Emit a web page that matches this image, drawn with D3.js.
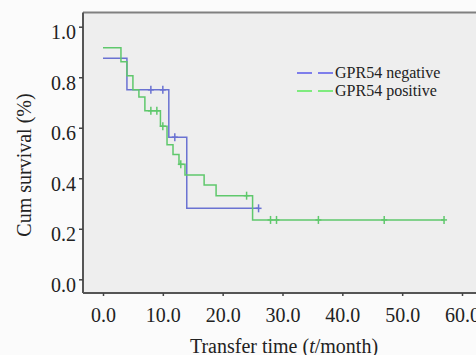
<!DOCTYPE html>
<html>
<head>
<meta charset="utf-8">
<script src="https://cdn.jsdelivr.net/npm/d3@7"></script>
<style>
  body { margin: 0; background: #fbfbfb; }
  svg { display: block; font-family: "Liberation Serif", "Times New Roman", serif; }
</style>
</head>
<body>
<svg id="km" width="476" height="355"></svg>
<script>
// GPR54 negative: step times (months) and survival after each step
var negTimes = [0, 4, 11, 14, 26];
var negSurv = [0.875, 0.75, 0.5625, 0.281, 0.281];
var negCensor = [8, 10, 12, 26];

// GPR54 positive
var posTimes = [0, 3, 4, 5, 6, 7, 9.6, 10.7, 11.7, 12.7, 13.7, 16.9, 18.9, 25, 57];
var posSurv = [0.917, 0.861, 0.806, 0.75, 0.722, 0.667, 0.606, 0.533, 0.494, 0.455, 0.413, 0.373, 0.331, 0.235, 0.235];
var posCensor = [8, 9, 10, 13, 24, 28, 29, 36, 47, 57];

var xTicks = [0, 10, 20, 30, 40, 50, 60];
var yTicks = [0, 0.2, 0.4, 0.6, 0.8, 1.0];
var legendLabels = ["GPR54 negative", "GPR54 positive"];

var lineColors = ["#6a72d2", "#5fc86c"];
var legendColors = ["#5a5aea", "#5aea5a"];

var svg = d3.select("#km");

// plot frame
var box = {left: 83, top: 12.5, right: 480, bottom: 293};

var x = d3.scaleLinear().domain([0, 60]).range([103, 462]);
var y = d3.scaleLinear().domain([0, 1]).range([279.3, 26.7]);

svg.append("rect")
  .attr("x", box.left).attr("y", box.top)
  .attr("width", box.right - box.left).attr("height", box.bottom - box.top)
  .attr("fill", "#eeeeee");

svg.append("line")
  .attr("x1", box.left).attr("x2", box.right)
  .attr("y1", box.top).attr("y2", box.top)
  .attr("stroke", "#808080").attr("stroke-width", 2);

// axes
var xAxis = svg.append("g")
  .attr("transform", "translate(0," + box.bottom + ")")
  .call(d3.axisBottom(x).tickValues(xTicks).tickSize(3).tickSizeOuter(0).tickFormat(d3.format(".1f")));
xAxis.select(".domain").attr("d", "M" + box.left + ",0H" + box.right);

var yAxis = svg.append("g")
  .attr("transform", "translate(" + box.left + ",0)")
  .call(d3.axisLeft(y).tickValues(yTicks).tickSize(4).tickSizeOuter(0).tickFormat(d3.format(".1f")));
yAxis.select(".domain").attr("d", "M0," + box.top + "V" + box.bottom);

svg.selectAll(".domain").attr("stroke", "#555").attr("stroke-width", 2);
svg.selectAll(".tick line").attr("stroke", "#444").attr("stroke-width", 1.5);
svg.selectAll(".tick text")
  .attr("font-family", "Liberation Serif, Times New Roman, serif")
  .attr("font-size", 20).attr("fill", "#222");
xAxis.selectAll(".tick text").attr("y", 15).attr("dy", "0.71em");
yAxis.selectAll(".tick text").attr("x", -7).attr("dy", "0.6em");

// curves
var line = d3.line()
  .x(function(d) { return x(d[0]); })
  .y(function(d) { return y(d[1]); })
  .curve(d3.curveStepAfter);

function survAt(times, surv, t) {
  var s = surv[0];
  for (var i = 0; i < times.length; i++) if (times[i] <= t) s = surv[i];
  return s;
}

var series = [
  {times: negTimes, surv: negSurv, censor: negCensor},
  {times: posTimes, surv: posSurv, censor: posCensor}
];

series.forEach(function(s, i) {
  var pts = s.times.map(function(t, j) { return [t, s.surv[j]]; });
  svg.append("path")
    .attr("d", line(pts))
    .attr("fill", "none")
    .attr("stroke", lineColors[i])
    .attr("stroke-width", 1.5);

  var marks = svg.append("g").selectAll("g").data(s.censor).join("g")
    .attr("transform", function(t) {
      return "translate(" + x(t) + "," + y(survAt(s.times, s.surv, t)) + ")";
    });
  marks.append("line").attr("y1", -4).attr("y2", 4)
    .attr("stroke", lineColors[i]).attr("stroke-width", 1.5);
  marks.append("line").attr("x1", -3).attr("x2", 3)
    .attr("stroke", lineColors[i]).attr("stroke-width", 1.5);
});

// legend
var legend = svg.append("g").selectAll("g").data(legendLabels).join("g")
  .attr("transform", function(d, i) { return "translate(297," + (73 + i * 18) + ")"; });
legend.append("line")
  .attr("x1", 0).attr("x2", 36)
  .attr("stroke", function(d, i) { return legendColors[i]; })
  .attr("stroke-width", 1.5)
  .attr("stroke-dasharray", "15,6");
legend.append("text")
  .attr("x", 38).attr("y", 4.5)
  .attr("font-size", 16).attr("fill", "#222")
  .text(function(d) { return d; });

// axis titles
var xt = svg.append("text")
  .attr("x", 284).attr("y", 353)
  .attr("text-anchor", "middle")
  .attr("font-size", 20).attr("fill", "#222");
xt.append("tspan").text("Transfer time (");
xt.append("tspan").attr("font-style", "italic").text("t");
xt.append("tspan").text("/month)");

svg.append("text")
  .attr("transform", "translate(31,165) rotate(-90)")
  .attr("text-anchor", "middle")
  .attr("font-size", 20).attr("fill", "#222")
  .text("Cum survival (%)");
</script>
</body>
</html>
